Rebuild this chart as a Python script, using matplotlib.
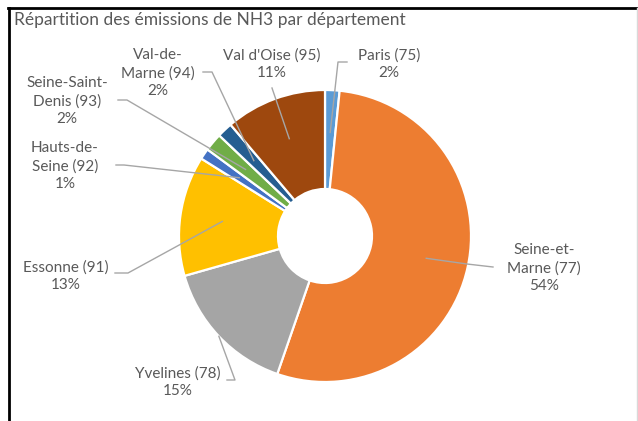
import numpy as np
import matplotlib
matplotlib.use("Agg")
from matplotlib import pyplot as plt
from matplotlib.lines import Line2D

## Data
#
names = ["Paris (75)", "Seine-et-\nMarne (77)", "Yvelines (78)", "Essonne (91)",
         "Hauts-de-\nSeine (92)", "Seine-Saint-\nDenis (93)", "Val-de-\nMarne (94)",
         "Val d'Oise (95)"]
shares = [1.6, 53.7, 15.3, 13.3, 1.2, 2.0, 1.7, 11.2]
colors = ["#5B9BD5", "#ED7D31", "#A5A5A5", "#FFC000",
          "#4472C4", "#70AD47", "#255E91", "#9E480E"]
title = "Répartition des émissions de NH3 par département"

W, H = 638, 421

# label centres and leader elbows, in pixels (trial'n error)
label_pos = [(389, 64), (544, 268), (178, 382), (66, 276),
             (65, 166), (67, 101), (158, 73), (272, 64)]
elbows = [[(347, 62), (338, 62)], [(493, 267), (467, 264)],
          [(227, 380), (235, 380)], [(115, 273), (128, 273)],
          [(116, 165), (124, 165)], [(118, 100), (127, 100)],
          [(203, 72), (212, 72)], [(272, 88)]]
leader_r = [0.71, 0.71, 1.0, 0.71, 0.71, 0.71, 0.71, 0.71]

cx, cy, R, r_in = 325, 236, 146, 47
txt_col = "#595959"
font = "Lato"

fig = plt.figure(figsize=(W / 100, H / 100), dpi=100)
ax = fig.add_axes([0, 0, 1, 1])
ax.pie(shares, colors=colors, startangle=90, counterclock=False,
       center=(cx, H - cy), radius=R,
       wedgeprops={'width': R - r_in, 'edgecolor': 'white', 'linewidth': 1.6})
ax.set_xlim(0, W)
ax.set_ylim(0, H)
ax.set_aspect('auto')
ax.axis('off')

## Labels + leader lines
#
total = sum(shares)
cum = 0
for i, v in enumerate(shares):
    mid = (cum + v / 2) / total * 2 * np.pi
    cum += v
    px = cx + leader_r[i] * R * np.sin(mid)
    py = cy - leader_r[i] * R * np.cos(mid)
    pts = elbows[i] + [(px, py)]
    xs = [p[0] for p in pts]
    ys = [H - p[1] for p in pts]
    ax.plot(xs, ys, color="#A6A6A6", lw=1.0, zorder=5)
    lx, ly = label_pos[i]
    ax.text(lx, H - ly, names[i] + "\n" + f"{v:.0f}%", ha='center', va='center',
            color=txt_col, fontsize=11, family=font, linespacing=1.3)

ax.text(14, H - 20, title, ha='left', va='center', color=txt_col,
        fontsize=12.5, family=font)

## Frame
#
fig.add_artist(Line2D([8 / W, 1], [1 - 8 / H, 1 - 8 / H], color='black', lw=2))
fig.add_artist(Line2D([9 / W, 9 / W], [0, 1 - 8 / H], color='black', lw=2))
fig.add_artist(Line2D([637 / W, 637 / W], [0, 1 - 8 / H], color='#D9D9D9', lw=1))

fig.savefig("out.png", dpi=100)
